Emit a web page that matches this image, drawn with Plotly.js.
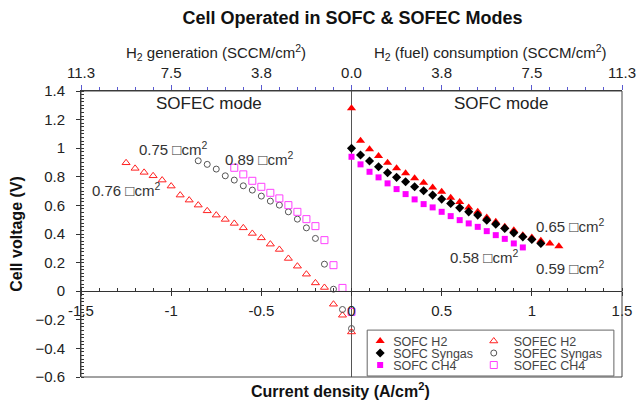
<!DOCTYPE html>
<html>
<head>
<meta charset="utf-8">
<script src="https://cdn.plot.ly/plotly-3.0.1.min.js"></script>
<style>html,body{margin:0;padding:0;background:#fff;}#chart{width:641px;height:400px;}</style>
</head>
<body>
<div id="chart"></div>
<script>
// ---- data (current density A/cm2, cell voltage V) ----
const sofcH2X = [0, 0.05, 0.10, 0.15, 0.20, 0.25, 0.30, 0.35, 0.40, 0.45, 0.50, 0.55, 0.60, 0.65, 0.70, 0.75, 0.80, 0.85, 0.90, 0.95, 1.00, 1.05, 1.10, 1.15];
const sofcH2Y = [1.28, 1.052, 0.992, 0.945, 0.898, 0.859, 0.824, 0.789, 0.758, 0.726, 0.695, 0.653, 0.623, 0.586, 0.555, 0.516, 0.485, 0.450, 0.427, 0.392, 0.376, 0.352, 0.334, 0.315];

const sofcSynX = [0, 0.05, 0.10, 0.15, 0.20, 0.25, 0.30, 0.35, 0.40, 0.45, 0.50, 0.55, 0.60, 0.65, 0.70, 0.75, 0.80, 0.85, 0.90, 0.95, 1.00, 1.05];
const sofcSynY = [0.999, 0.952, 0.910, 0.870, 0.828, 0.796, 0.765, 0.730, 0.702, 0.672, 0.644, 0.614, 0.583, 0.555, 0.532, 0.497, 0.469, 0.439, 0.408, 0.380, 0.362, 0.334];

const sofcCH4X = [0, 0.05, 0.10, 0.15, 0.20, 0.25, 0.30, 0.35, 0.40, 0.45, 0.50, 0.55, 0.60, 0.65, 0.70, 0.75, 0.80, 0.85, 0.90, 0.95];
const sofcCH4Y = [0.940, 0.887, 0.835, 0.796, 0.754, 0.714, 0.679, 0.642, 0.609, 0.586, 0.555, 0.525, 0.497, 0.474, 0.450, 0.420, 0.392, 0.366, 0.334, 0.306];

const sofecH2X = [-1.25, -1.20, -1.15, -1.10, -1.05, -1.00, -0.95, -0.90, -0.85, -0.80, -0.75, -0.70, -0.65, -0.60, -0.55, -0.50, -0.45, -0.40, -0.35, -0.30, -0.25, -0.20, -0.15, -0.10, -0.05, 0];
const sofecH2Y = [0.898, 0.859, 0.831, 0.807, 0.777, 0.735, 0.672, 0.637, 0.602, 0.562, 0.532, 0.502, 0.474, 0.443, 0.404, 0.373, 0.329, 0.292, 0.229, 0.175, 0.119, 0.058, 0.026, -0.091, -0.168, -0.285];

const sofecSynX = [-0.85, -0.80, -0.75, -0.70, -0.65, -0.60, -0.55, -0.50, -0.45, -0.40, -0.35, -0.30, -0.25, -0.20, -0.15, -0.10, -0.05, 0];
const sofecSynY = [0.912, 0.887, 0.854, 0.807, 0.777, 0.737, 0.707, 0.665, 0.630, 0.602, 0.555, 0.504, 0.443, 0.369, 0.189, 0.014, -0.128, -0.261];

const sofecCH4X = [-0.65, -0.60, -0.55, -0.50, -0.45, -0.40, -0.35, -0.30, -0.25, -0.20, -0.15, -0.10, -0.05, 0];
const sofecCH4Y = [0.863, 0.817, 0.772, 0.730, 0.688, 0.649, 0.602, 0.555, 0.504, 0.455, 0.357, 0.182, 0.023, -0.145];

// bottom axis ticks and top (H2 flow) axis tick labels
const xTickVals = [-1.5, -1, -0.5, 0, 0.5, 1, 1.5];
const xTickText = ['-1.5', '-1', '-0.5', '0', '0.5', '1', '1.5'];
const h2TickText = ['11.3', '7.5', '3.8', '0.0', '3.8', '7.5', '11.3'];

// area-specific resistance labels
const asrText = ['0.75 \u25A1cm<sup>2</sup>', '0.89 \u25A1cm<sup>2</sup>', '0.76 \u25A1cm<sup>2</sup>', '0.65 \u25A1cm<sup>2</sup>', '0.58 \u25A1cm<sup>2</sup>', '0.59 \u25A1cm<sup>2</sup>'];
const asrX = [-1.19, -0.71, -1.45, 1.01, 0.533, 1.01];
const asrY = [1.00, 0.93, 0.71, 0.46, 0.245, 0.168];

const FONT = 'Liberation Sans, Arial, sans-serif';

const traces = [
  {x: sofcH2X, y: sofcH2Y, name: 'SOFC H2', mode: 'markers', legend: 'legend',
   marker: {symbol: 'triangle-up', size: 8, color: '#ff0000'}},
  {x: sofcSynX, y: sofcSynY, name: 'SOFC Syngas', mode: 'markers', legend: 'legend',
   marker: {symbol: 'diamond', size: 7, color: '#000000'}},
  {x: sofcCH4X, y: sofcCH4Y, name: 'SOFC CH4', mode: 'markers', legend: 'legend',
   marker: {symbol: 'square', size: 6, color: '#ff00ff'}},
  {x: sofecH2X, y: sofecH2Y, xaxis: 'x2', name: 'SOFEC H2', mode: 'markers', legend: 'legend2',
   marker: {symbol: 'triangle-up-open', size: 7, color: '#ff2020', line: {width: 1}}},
  {x: sofecSynX, y: sofecSynY, xaxis: 'x2', name: 'SOFEC Syngas', mode: 'markers', legend: 'legend2',
   marker: {symbol: 'circle-open', size: 6, color: '#555555', line: {width: 1}}},
  {x: sofecCH4X, y: sofecCH4Y, xaxis: 'x2', name: 'SOFEC CH4', mode: 'markers', legend: 'legend2',
   marker: {symbol: 'square-open', size: 7, color: '#ff40ff', line: {width: 1}}}
];

const annotations = asrText.map((t, i) => ({
  text: t, x: asrX[i], y: asrY[i], xref: 'x', yref: 'y', xanchor: 'left', yanchor: 'middle',
  showarrow: false, font: {family: FONT, size: 15, color: '#333'}
}));
annotations.push(
  {text: 'SOFEC mode', x: -0.79, y: 1.31, xref: 'x', yref: 'y', showarrow: false,
   font: {family: FONT, size: 17, color: '#222'}},
  {text: 'SOFC mode', x: 0.83, y: 1.31, xref: 'x', yref: 'y', showarrow: false,
   font: {family: FONT, size: 17, color: '#222'}},
  {text: 'H<sub>2</sub> generation (SCCM/cm<sup>2</sup>)', x: -0.75, y: 1.136, xref: 'x', yref: 'paper',
   xanchor: 'center', yanchor: 'middle', showarrow: false, font: {family: FONT, size: 15, color: '#222'}},
  {text: 'H<sub>2</sub> (fuel) consumption (SCCM/cm<sup>2</sup>)', x: 0.77, y: 1.136, xref: 'x', yref: 'paper',
   xanchor: 'center', yanchor: 'middle', showarrow: false, font: {family: FONT, size: 15, color: '#222'}},
  {text: '<b>Current density (A/cm<sup>2</sup>)</b>', x: 0.479, y: -0.045, xref: 'paper', yref: 'paper',
   xanchor: 'center', yanchor: 'middle', showarrow: false, font: {family: FONT, size: 16, color: '#111'}}
);

const layout = {
  width: 641, height: 400,
  margin: {l: 81, r: 19, t: 91, b: 23},
  paper_bgcolor: '#fff', plot_bgcolor: '#fff',
  font: {family: FONT, size: 13, color: '#222'},
  title: {text: '<b>Cell Operated in SOFC &amp; SOFEC Modes</b>', x: 0.55, xanchor: 'center',
          y: 0.955, yanchor: 'middle', font: {family: FONT, size: 18, color: '#111'}},
  xaxis: {range: [-1.5, 1.5], tickvals: xTickVals, ticktext: xTickText, anchor: 'free', position: 0.3,
          showline: true, linecolor: '#333', linewidth: 1, ticks: 'outside', ticklen: 4, tickcolor: '#333',
          minor: {dtick: 0.1, ticks: 'inside', ticklen: 3, tickcolor: '#333'},
          showgrid: false, zeroline: true, zerolinecolor: '#555', zerolinewidth: 1,
          tickfont: {family: FONT, size: 15, color: '#222'}, ticklabelstandoff: 2},
  xaxis2: {range: [-1.5, 1.5], overlaying: 'x', side: 'top', anchor: 'y', tickvals: xTickVals, ticktext: h2TickText,
           showline: true, linecolor: '#333', linewidth: 1, ticks: 'outside', ticklen: 5, tickcolor: '#5a5ad0',
           minor: {dtick: 0.1, ticks: 'outside', ticklen: 3, tickcolor: '#5a5ad0'},
           showgrid: false, zeroline: false, tickfont: {family: FONT, size: 15, color: '#222'}, ticklabelstandoff: 1},
  yaxis: {range: [-0.6, 1.4], dtick: 0.2, showline: true, linecolor: '#333', linewidth: 1,
          ticks: 'outside', ticklen: 4, tickcolor: '#333',
          minor: {dtick: 0.025, ticks: 'inside', ticklen: 3, tickcolor: '#333'},
          showgrid: false, zeroline: false, tickfont: {family: FONT, size: 15, color: '#222'}, ticklabelstandoff: 8,
          title: {text: '<b>Cell voltage (V)</b>', font: {family: FONT, size: 16, color: '#111'}, standoff: 8}},
  showlegend: true,
  legend: {x: 0.516, xanchor: 'left', y: 0.01, yanchor: 'bottom', bgcolor: 'rgba(0,0,0,0)', borderwidth: 0,
           font: {family: FONT, size: 12.5, color: '#444'}, tracegroupgap: 0},
  legend2: {x: 0.726, xanchor: 'left', y: 0.01, yanchor: 'bottom', bgcolor: 'rgba(0,0,0,0)', borderwidth: 0,
            font: {family: FONT, size: 12.5, color: '#444'}, tracegroupgap: 0},
  shapes: [
    {type: 'rect', xref: 'paper', yref: 'paper', x0: 0, x1: 1, y0: 0, y1: 1, line: {color: '#444', width: 1}, layer: 'above'},
    {type: 'rect', xref: 'paper', yref: 'paper', x0: 0.529, x1: 0.985, y0: 0.0035, y1: 0.164,
     line: {color: '#666', width: 1}, fillcolor: '#ffffff', layer: 'above'}
  ],
  annotations: annotations
};

// compact the legend rows (12 px apart, first row centred at y = 341 px) and
// pull the text closer to the symbol, as in the reference
const LEGEND_FIRST_ROW = 341, LEGEND_ROW_GAP = 12;
function compactLegends() {
  ['legend', 'legend2'].forEach(function (id) {
    const g = document.querySelector('g.' + id);
    if (!g) return;
    const items = g.querySelectorAll('g.traces');
    let y0 = null;
    items.forEach(function (it, i) {
      const m = /translate\(([-\d.]+),\s*([-\d.]+)\)/.exec(it.getAttribute('transform') || '');
      if (!m) return;
      const x = parseFloat(m[1]);
      if (y0 === null) y0 = parseFloat(m[2]);
      it.setAttribute('transform', 'translate(' + x + ',' + (y0 + LEGEND_ROW_GAP * i) + ')');
      const t = it.querySelector('text.legendtext');
      if (t) { t.setAttribute('x', '33'); t.querySelectorAll('tspan').forEach(function (s) { if (s.hasAttribute('x')) s.setAttribute('x', '33'); }); }
    });
    const gm = /translate\(([-\d.]+),\s*([-\d.]+)\)/.exec(g.getAttribute('transform') || '');
    if (gm && y0 !== null) {
      g.setAttribute('transform', 'translate(' + parseFloat(gm[1]) + ',' + (LEGEND_FIRST_ROW - y0) + ')');
    }
  });
}

Plotly.newPlot('chart', traces, layout, {displayModeBar: false, staticPlot: true}).then(compactLegends);
</script>
</body>
</html>
